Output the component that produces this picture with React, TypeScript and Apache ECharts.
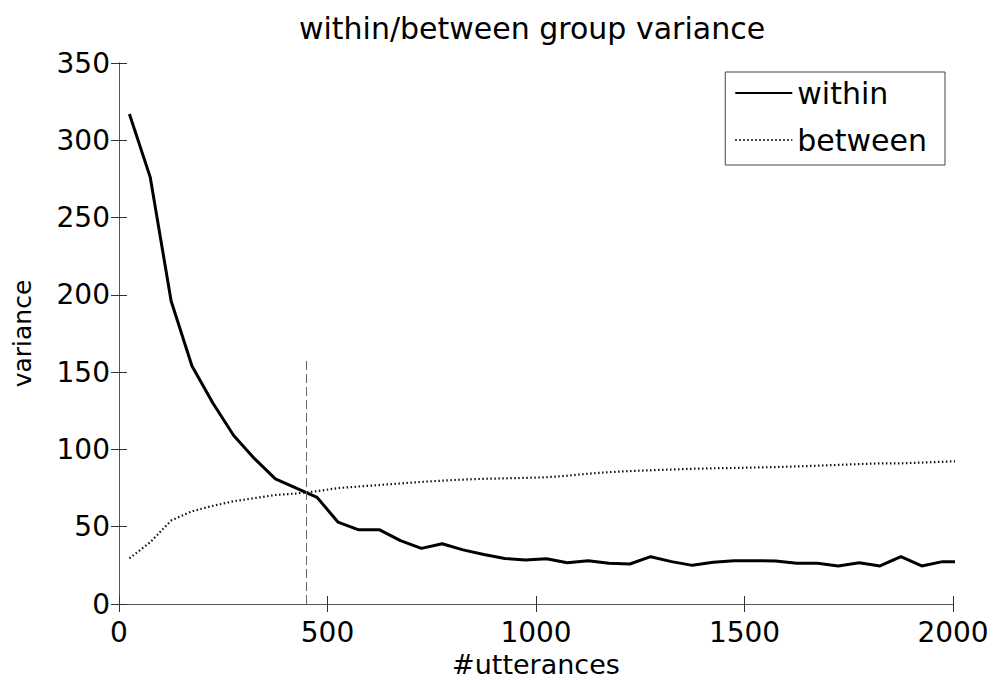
import React, { useEffect, useRef } from "react";
import * as echarts from "echarts";

const utterances = [
  25, 75, 125, 175, 225, 275, 325, 375, 425, 475,
  525, 575, 625, 675, 725, 775, 825, 875, 925, 975,
  1025, 1075, 1125, 1175, 1225, 1275, 1325, 1375, 1425, 1475,
  1525, 1575, 1625, 1675, 1725, 1775, 1825, 1875, 1925, 1975, 2025,
];
const withinVar = [
  317, 276, 196, 154, 130, 109, 94, 81, 75, 69,
  53, 48, 48, 41, 36, 39, 35, 32, 29.5, 28.5,
  29.3, 26.7, 28, 26.3, 25.9, 30.6, 27.4, 25, 27, 28,
  28, 27.8, 26.3, 26.3, 24.6, 26.7, 24.6, 30.6, 24.6, 27.4, 27.4,
];
const betweenVar = [
  29.5, 40, 54, 60, 63.5, 66.5, 68.5, 70.5, 71.5, 73,
  75, 76, 77, 78, 79, 79.8, 80.5, 81, 81.3, 81.6,
  82, 83, 84.3, 85.3, 86, 86.5, 87, 87.5, 87.8, 88,
  88.3, 88.6, 89, 89.5, 90, 90.5, 91, 91, 91.5, 92, 92.5,
];
const seriesNames = ["within", "between"];
const dividerX = 450;
const dividerTop = 158;

export default function App() {
  const ref = useRef<HTMLDivElement>(null);
  useEffect(() => {
    const chart = echarts.init(ref.current!, null, { renderer: "svg" });
    const font = "DejaVu Sans";
    const axisLineStyle = { color: "#555", width: 1 };
    const plain = (v: number) => String(v);
    chart.setOption({
      animation: false,
      backgroundColor: "#fff",
      title: {
        text: "within/between group variance",
        left: 532,
        top: 13,
        textAlign: "center",
        padding: 0,
        textStyle: { fontFamily: font, fontSize: 30, fontWeight: "normal", color: "#000" },
      },
      legend: {
        orient: "vertical",
        right: 49,
        top: 72,
        padding: [6, 18, 10, 9],
        itemGap: 17,
        itemWidth: 57,
        itemHeight: 14,
        borderColor: "#444",
        borderWidth: 1,
        borderRadius: 0,
        backgroundColor: "#fff",
        align: "left",
        itemStyle: { color: "transparent", borderWidth: 0, opacity: 0 },
        textStyle: { fontFamily: font, fontSize: 30, color: "#000" },
        data: seriesNames,
      },
      grid: { left: 119, right: 41, top: 63, bottom: 76, containLabel: false, outerBoundsMode: "none" },
      xAxis: [
        {
          type: "value",
          min: 0,
          max: 2000,
          interval: 500,
          position: "bottom",
          name: "#utterances",
          nameLocation: "middle",
          nameGap: 42,
          nameTextStyle: { fontFamily: font, fontSize: 27, lineHeight: 27, color: "#000" },
          axisLine: { show: true, lineStyle: axisLineStyle },
          axisTick: { show: true, inside: true, length: 8, lineStyle: { color: "#333" } },
          axisLabel: { fontFamily: font, fontSize: 28, color: "#000", margin: 14, formatter: plain },
          splitLine: { show: false },
        },
        {
          type: "value",
          min: 0,
          max: 2000,
          interval: 500,
          position: "top",
          axisLine: { show: true, lineStyle: axisLineStyle },
          axisTick: { show: true, inside: true, length: 8, lineStyle: { color: "#333" } },
          axisLabel: { show: false },
          splitLine: { show: false },
        },
      ],
      yAxis: [
        {
          type: "value",
          min: 0,
          max: 350,
          interval: 50,
          position: "left",
          name: "variance",
          nameLocation: "middle",
          nameGap: 84,
          nameTextStyle: { fontFamily: font, fontSize: 25, color: "#000" },
          axisLine: { show: true, lineStyle: axisLineStyle },
          axisTick: { show: true, inside: true, length: 8, lineStyle: { color: "#333" } },
          axisLabel: { fontFamily: font, fontSize: 28, color: "#000", margin: 9, formatter: plain },
          splitLine: { show: false },
        },
        {
          type: "value",
          min: 0,
          max: 350,
          interval: 50,
          position: "right",
          axisLine: { show: true, lineStyle: axisLineStyle },
          axisTick: { show: true, inside: true, length: 8, lineStyle: { color: "#333" } },
          axisLabel: { show: false },
          splitLine: { show: false },
        },
      ],
      series: [
        {
          name: seriesNames[0],
          type: "line",
          xAxisIndex: 0,
          yAxisIndex: 0,
          data: utterances.map((x, i) => [x, withinVar[i]]),
          symbol: "none",
          lineStyle: { color: "#000", width: 3 },
          itemStyle: { color: "#000" },
          emphasis: { disabled: true },
          markLine: {
            silent: true,
            symbol: "none",
            label: { show: false },
            lineStyle: { color: "#666", width: 1, type: [9, 4] },
            data: [[{ coord: [dividerX, 0] }, { coord: [dividerX, dividerTop] }]],
          },
        },
        {
          name: seriesNames[1],
          type: "line",
          xAxisIndex: 0,
          yAxisIndex: 0,
          data: utterances.map((x, i) => [x, betweenVar[i]]),
          symbol: "none",
          lineStyle: { color: "#111", width: 2.2, type: [1.5, 2.5] },
          itemStyle: { color: "#111" },
          emphasis: { disabled: true },
        },
      ],
    });
    return () => chart.dispose();
  }, []);
  return (
    <div
      ref={ref}
      style={{ position: "absolute", left: 0, top: 0, width: 994, height: 680 }}
    />
  );
}
